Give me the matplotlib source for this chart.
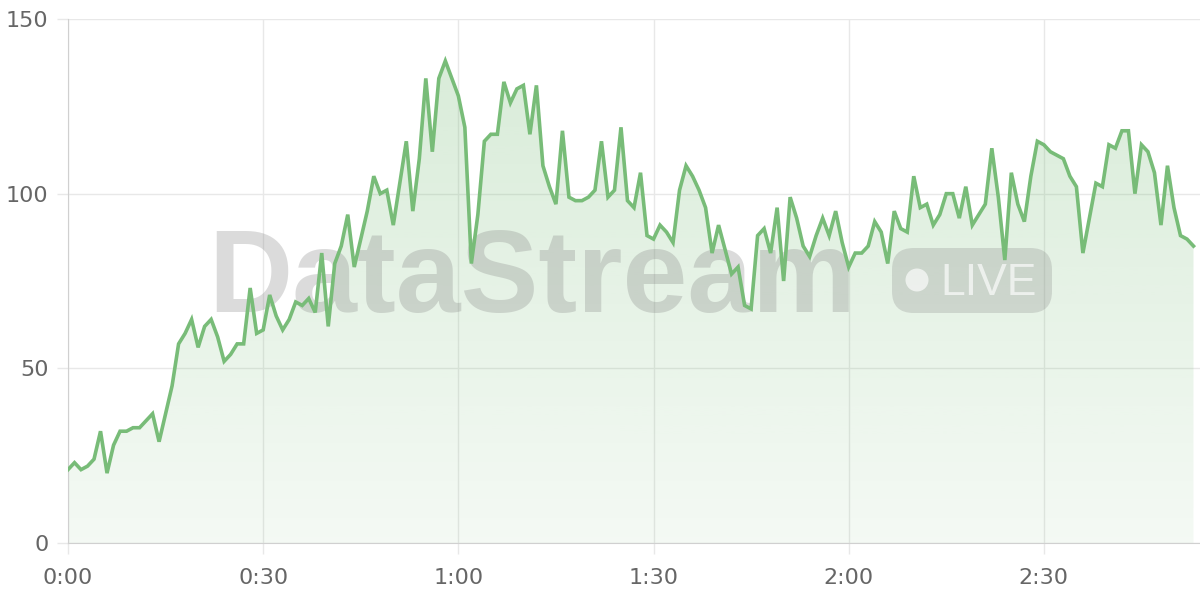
import numpy as np
import matplotlib
matplotlib.use("Agg")
import matplotlib.pyplot as plt
from matplotlib.patches import FancyBboxPatch, Ellipse

# one reading per second
valores = [21, 23, 21, 22, 24, 32, 20, 28, 32, 32, 33, 33, 35, 37, 29, 37, 45, 57, 60, 64,
           56, 62, 64, 59, 52, 54, 57, 57, 73, 60,
           61, 71, 65, 61, 64, 69, 68, 70, 66, 83,
           62, 80, 85, 94, 79, 87, 95, 105, 100, 101,
           91, 103, 115, 95, 110, 133, 112, 133, 138, 133,
           128, 119, 80, 94, 115, 117, 117, 132, 126, 130,
           131, 117, 131, 108, 102, 97, 118, 99, 98, 98,
           99, 101, 115, 99, 101, 119, 98, 96, 106, 88,
           87, 91, 89, 86, 101, 108, 105, 101, 96, 83,
           91, 84, 77, 79, 68, 67, 88, 90, 83, 96,
           75, 99, 93, 85, 82, 88, 93, 88, 95, 86,
           79, 83, 83, 85, 92, 89, 80, 95, 90, 89,
           105, 96, 97, 91, 94, 100, 100, 93, 102, 91,
           94, 97, 113, 99, 81, 106, 97, 92, 105, 115,
           114, 112, 111, 110, 105, 102, 83, 93, 103, 102,
           114, 113, 118, 118, 100, 114, 112, 106, 91, 108,
           96, 88, 87, 85]
segundos = list(range(len(valores)))

xticks = [0, 30, 60, 90, 120, 150]
xlabels = ["0:00", "0:30", "1:00", "1:30", "2:00", "2:30"]
yticks = [0, 50, 100, 150]

verde = "#78bc78"
gris_grid = "#e8e8e8"

fig = plt.figure(figsize=(12, 6), dpi=100)
ax = fig.add_axes([68 / 1200, 1 - 543 / 600, 1 - 68 / 1200, (543 - 19) / 600])

xmax = 174

# gradient fill under the line
poly = ax.fill_between(segundos, valores, 0, color="none", lw=0)
grad = np.zeros((256, 1, 4))
rgb = matplotlib.colors.to_rgb(verde)
grad[:, 0, 0] = rgb[0]
grad[:, 0, 1] = rgb[1]
grad[:, 0, 2] = rgb[2]
grad[:, 0, 3] = np.linspace(0.08, 0.30, 256)
im = ax.imshow(grad, extent=[0, xmax, 0, 150], aspect="auto", origin="lower", zorder=1)
im.set_clip_path(poly.get_paths()[0], transform=ax.transData)

ax.plot(segundos, valores, color=verde, lw=2.6, zorder=3, solid_joinstyle="miter")

ax.set_xlim(0, xmax)
ax.set_ylim(0, 150)
ax.set_xticks(xticks)
ax.set_xticklabels(xlabels)
ax.set_yticks(yticks)

ax.grid(True, color=gris_grid, lw=1)
ax.set_axisbelow(True)
for s in ["top", "right"]:
    ax.spines[s].set_visible(False)
ax.spines["left"].set_color("#d0d0d0")
ax.spines["bottom"].set_color("#d0d0d0")
ax.tick_params(axis="both", colors=gris_grid, length=8, width=1, labelsize=16, labelcolor="#666666")
ax.tick_params(axis="y", pad=6)
ax.tick_params(axis="x", pad=10)

# watermark, under the line
tf = fig.transFigure
ax.text(208 / 1200, 1 - 312 / 600, "DataStream", fontsize=84, fontweight="bold",
        family="Liberation Sans", color="#808080", alpha=0.28, ha="left", va="baseline",
        transform=tf, zorder=2, clip_on=False)
pill = FancyBboxPatch((892 / 1200, 1 - 313 / 600), 160 / 1200, 65 / 600,
                      boxstyle="round,pad=0,rounding_size=0.018", transform=tf,
                      facecolor="#808080", edgecolor="none", alpha=0.25, zorder=2,
                      mutation_aspect=2, clip_on=False)
ax.add_patch(pill)
punto = Ellipse((917 / 1200, 1 - 280 / 600), 23 / 1200, 23 / 600, transform=tf,
                facecolor="white", edgecolor="none", alpha=0.65, zorder=2.1, clip_on=False)
ax.add_patch(punto)
ax.text(940 / 1200, 1 - 295 / 600, "LIVE", fontsize=32, family="Liberation Sans",
        color="white", alpha=0.65, ha="left", va="baseline", transform=tf, zorder=2.1,
        clip_on=False)

fig.savefig("out.png", dpi=100)
